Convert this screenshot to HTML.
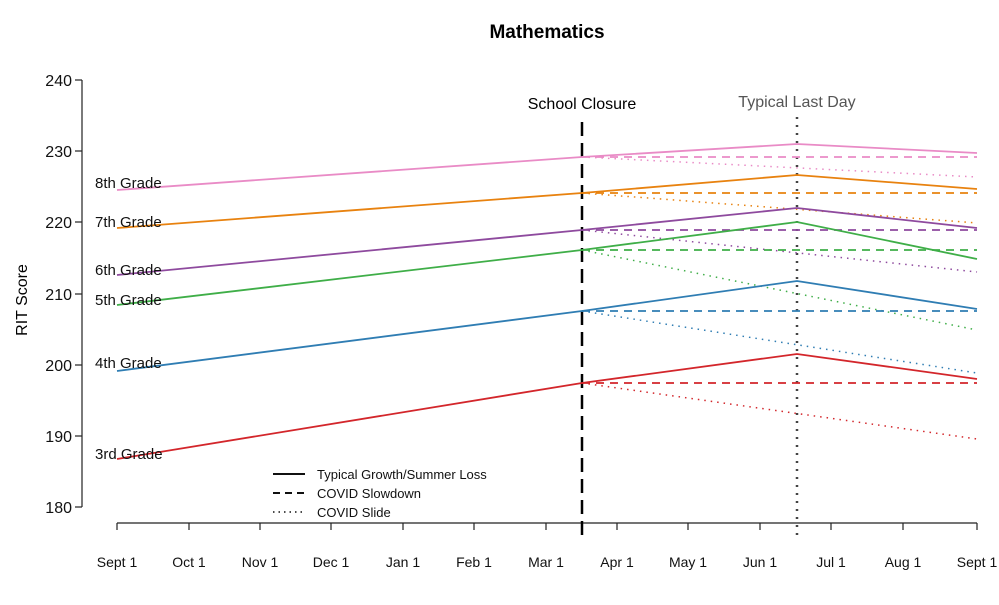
<!DOCTYPE html>
<html><head><style>body{margin:0;background:#fff}</style></head><body>
<svg width="999" height="600" xmlns="http://www.w3.org/2000/svg" font-family="Liberation Sans, sans-serif">
<rect width="999" height="600" fill="#fff"/>
<text x="547" y="38" font-size="19" font-weight="bold" text-anchor="middle">Mathematics</text>
<g stroke="#222" stroke-width="1.2" fill="none">
<line x1="82" y1="80" x2="82" y2="507"/>
<line x1="75" y1="80" x2="82" y2="80"/><line x1="75" y1="151" x2="82" y2="151"/><line x1="75" y1="222" x2="82" y2="222"/><line x1="75" y1="294" x2="82" y2="294"/><line x1="75" y1="365" x2="82" y2="365"/><line x1="75" y1="436" x2="82" y2="436"/><line x1="75" y1="507" x2="82" y2="507"/>
<line x1="117" y1="523" x2="977" y2="523"/>
</g>
<g font-size="16" text-anchor="end" fill="#111">
<text x="72" y="86">240</text><text x="72" y="157">230</text><text x="72" y="228">220</text><text x="72" y="300">210</text><text x="72" y="371">200</text><text x="72" y="442">190</text><text x="72" y="513">180</text>
</g>
<text transform="translate(27,300) rotate(-90)" font-size="16" text-anchor="middle">RIT Score</text>
<g stroke="#222" stroke-width="1.2">
<line x1="117" y1="523" x2="117" y2="530"/><line x1="189" y1="523" x2="189" y2="530"/><line x1="260" y1="523" x2="260" y2="530"/><line x1="331" y1="523" x2="331" y2="530"/><line x1="403" y1="523" x2="403" y2="530"/><line x1="474" y1="523" x2="474" y2="530"/><line x1="546" y1="523" x2="546" y2="530"/><line x1="617" y1="523" x2="617" y2="530"/><line x1="688" y1="523" x2="688" y2="530"/><line x1="760" y1="523" x2="760" y2="530"/><line x1="831" y1="523" x2="831" y2="530"/><line x1="903" y1="523" x2="903" y2="530"/><line x1="977" y1="523" x2="977" y2="530"/>
</g>
<g font-size="14" text-anchor="middle" fill="#111">
<text x="117" y="567">Sept 1</text><text x="189" y="567">Oct 1</text><text x="260" y="567">Nov 1</text><text x="331" y="567">Dec 1</text><text x="403" y="567">Jan 1</text><text x="474" y="567">Feb 1</text><text x="546" y="567">Mar 1</text><text x="617" y="567">Apr 1</text><text x="688" y="567">May 1</text><text x="760" y="567">Jun 1</text><text x="831" y="567">Jul 1</text><text x="903" y="567">Aug 1</text><text x="977" y="567">Sept 1</text>
</g>
<line x1="582" y1="122" x2="582" y2="535" stroke="#000" stroke-width="2.5" stroke-dasharray="14,7"/>
<line x1="797" y1="117" x2="797" y2="535" stroke="#444" stroke-width="2.5" stroke-dasharray="2,6"/>
<text x="582" y="109" font-size="16" text-anchor="middle">School Closure</text>
<text x="797" y="107" font-size="16" text-anchor="middle" fill="#555">Typical Last Day</text>
<g fill="none" stroke-width="1.8">
<g stroke="#e98bc6"><polyline points="117,190 582,157 797,144 977,153"/><line x1="582" y1="157" x2="977" y2="157" stroke-dasharray="8,6"/><line x1="582" y1="157" x2="977" y2="177" stroke-width="1.5" stroke-dasharray="1.5,5"/></g>
<g stroke="#e8820f"><polyline points="117,228 582,193 797,175 977,189"/><line x1="582" y1="193" x2="977" y2="193" stroke-dasharray="8,6"/><line x1="582" y1="193" x2="977" y2="223" stroke-width="1.5" stroke-dasharray="1.5,5"/></g>
<g stroke="#8e4a9e"><polyline points="117,275 582,230 797,208 977,228"/><line x1="582" y1="230" x2="977" y2="230" stroke-dasharray="8,6"/><line x1="582" y1="230" x2="977" y2="272" stroke-width="1.5" stroke-dasharray="1.5,5"/></g>
<g stroke="#3fae48"><polyline points="117,305 582,250 797,222 977,259"/><line x1="582" y1="250" x2="977" y2="250" stroke-dasharray="8,6"/><line x1="582" y1="250" x2="977" y2="330" stroke-width="1.5" stroke-dasharray="1.5,5"/></g>
<g stroke="#2f7db3"><polyline points="117,371 582,311 797,281 977,309"/><line x1="582" y1="311" x2="977" y2="311" stroke-dasharray="8,6"/><line x1="582" y1="311" x2="977" y2="373" stroke-width="1.5" stroke-dasharray="1.5,5"/></g>
<g stroke="#d3262b"><polyline points="117,459 582,383 797,354 977,379"/><line x1="582" y1="383" x2="977" y2="383" stroke-dasharray="8,6"/><line x1="582" y1="383" x2="977" y2="439" stroke-width="1.5" stroke-dasharray="1.5,5"/></g>
</g>
<g font-size="15" fill="#111">
<text x="95" y="188">8th Grade</text><text x="95" y="227">7th Grade</text><text x="95" y="275">6th Grade</text><text x="95" y="305">5th Grade</text><text x="95" y="368">4th Grade</text><text x="95" y="459">3rd Grade</text>
</g>
<g stroke="#111" stroke-width="2">
<line x1="273" y1="474" x2="305" y2="474"/>
<line x1="273" y1="493" x2="305" y2="493" stroke-dasharray="7,5"/>
<line x1="273" y1="512" x2="305" y2="512" stroke-width="1.5" stroke-dasharray="1.5,4"/>
</g>
<g font-size="13" fill="#111">
<text x="317" y="479">Typical Growth/Summer Loss</text><text x="317" y="498">COVID Slowdown</text><text x="317" y="517">COVID Slide</text>
</g>
</svg>
</body></html>
